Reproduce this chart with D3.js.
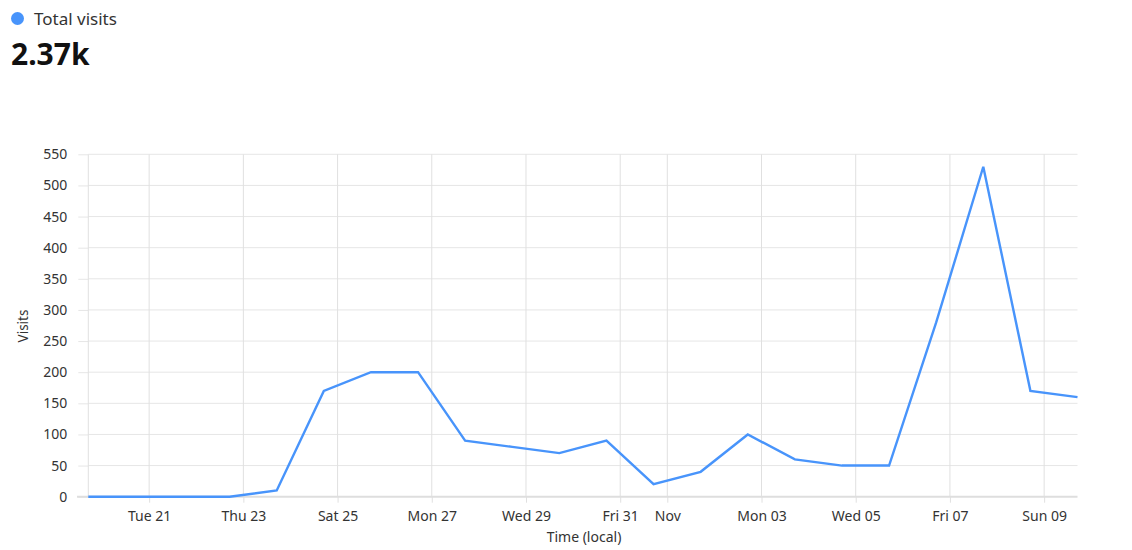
<!DOCTYPE html>
<html>
<head>
<meta charset="utf-8">
<script src="https://cdn.jsdelivr.net/npm/d3@7"></script>
<style>
  html, body { margin: 0; padding: 0; background: #fff; }
  body { width: 1132px; height: 550px; overflow: hidden; font-family: "Segoe UI", "Noto Sans", sans-serif; }
</style>
</head>
<body>
<svg id="chart" width="1132" height="550"></svg>
<script>
// ---- data ----
const seriesName = "Total visits";
const totalLabel = "2.37k";
const dates = [
  "2025-10-19T17:00Z","2025-10-20T17:00Z","2025-10-21T17:00Z","2025-10-22T17:00Z",
  "2025-10-23T17:00Z","2025-10-24T17:00Z","2025-10-25T17:00Z","2025-10-26T17:00Z",
  "2025-10-27T17:00Z","2025-10-28T17:00Z","2025-10-29T17:00Z","2025-10-30T17:00Z",
  "2025-10-31T17:00Z","2025-11-01T17:00Z","2025-11-02T17:00Z","2025-11-03T17:00Z",
  "2025-11-04T17:00Z","2025-11-05T17:00Z","2025-11-06T17:00Z","2025-11-07T17:00Z",
  "2025-11-08T17:00Z","2025-11-09T17:00Z"
];
const visits = [0, 0, 0, 0, 10, 170, 200, 200, 90, 80, 70, 90, 20, 40, 100, 60, 50, 50, 280, 530, 170, 160];
const yTicks = [0, 50, 100, 150, 200, 250, 300, 350, 400, 450, 500, 550];
const xTitle = "Time (local)";
const yTitle = "Visits";

// ---- layout ----
const color = "#4894fb";
const plotL = 88.3, plotR = 1077.5, plotT = 154.3, plotB = 496.7;
const svg = d3.select("#chart");
const font = '"Segoe UI", "Noto Sans", sans-serif';

const data = dates.map((d, i) => ({ t: new Date(d), v: visits[i] }));

const x = d3.scaleUtc().domain(d3.extent(data, d => d.t)).range([plotL, plotR]);
const y = d3.scaleLinear().domain([0, 550]).range([plotB, plotT]);

// header
svg.append("circle").attr("cx", 17.5).attr("cy", 18.5).attr("r", 6.5).attr("fill", color);
svg.append("text").attr("x", 34).attr("y", 25).attr("font-size", 17).attr("fill", "#333")
  .attr("font-family", font).text(seriesName);
svg.append("text").attr("x", 11).attr("y", 64.5).attr("font-size", 30).attr("font-weight", 700)
  .attr("fill", "#111").attr("font-family", font).text(totalLabel);

// horizontal grid + y axis
const yAxis = svg.append("g").attr("transform", `translate(${plotL},0)`)
  .call(d3.axisLeft(y).tickValues(yTicks).tickSize(10).tickPadding(11));
yAxis.select(".domain").remove();
yAxis.selectAll(".tick line").attr("stroke", "#e6e6e6");
yAxis.selectAll(".tick text").attr("font-size", 14).attr("fill", "#333").attr("font-family", font);
svg.append("g").selectAll("line").data(yTicks.filter(d => d !== 0)).join("line")
  .attr("x1", plotL).attr("x2", plotR).attr("y1", d => y(d)).attr("y2", d => y(d))
  .attr("stroke", "#e6e6e6").attr("stroke-width", 1);

// vertical grid
const xTickVals = d3.utcDay.every(2).range(x.domain()[0], x.domain()[1]);
const fmt = d => (d.getUTCDate() === 1 ? d3.utcFormat("%b")(d) : d3.utcFormat("%a %d")(d));
svg.append("line").attr("x1", plotL).attr("x2", plotL).attr("y1", plotT).attr("y2", plotB)
  .attr("stroke", "#e0e0e0");
svg.append("g").selectAll("line").data(xTickVals).join("line")
  .attr("x1", d => x(d)).attr("x2", d => x(d)).attr("y1", plotT).attr("y2", plotB)
  .attr("stroke", "#e0e0e0").attr("stroke-width", 1);

// x axis
const xAxis = svg.append("g").attr("transform", `translate(0,${plotB})`)
  .call(d3.axisBottom(x).tickValues(xTickVals).tickFormat(fmt).tickSize(6).tickPadding(8));
xAxis.select(".domain").remove();
xAxis.selectAll(".tick line").attr("stroke", "#e0e0e0");
xAxis.selectAll(".tick text").attr("font-size", 14).attr("fill", "#333").attr("font-family", font);

// baseline
svg.append("line").attr("x1", 77).attr("x2", plotR).attr("y1", y(0)).attr("y2", y(0))
  .attr("stroke", "#dedede").attr("stroke-width", 2);

// axis titles
svg.append("text").attr("x", 584).attr("y", 542).attr("text-anchor", "middle")
  .attr("font-size", 14).attr("fill", "#333").attr("font-family", font).text(xTitle);
svg.append("text").attr("transform", "translate(28,326) rotate(-90)").attr("text-anchor", "middle")
  .attr("font-size", 13.5).attr("fill", "#333").attr("font-family", font).text(yTitle);

// line
svg.append("path").datum(data)
  .attr("fill", "none").attr("stroke", color).attr("stroke-width", 2.4)
  .attr("stroke-linejoin", "miter")
  .attr("d", d3.line().x(d => x(d.t)).y(d => y(d.v)));
</script>
</body>
</html>
